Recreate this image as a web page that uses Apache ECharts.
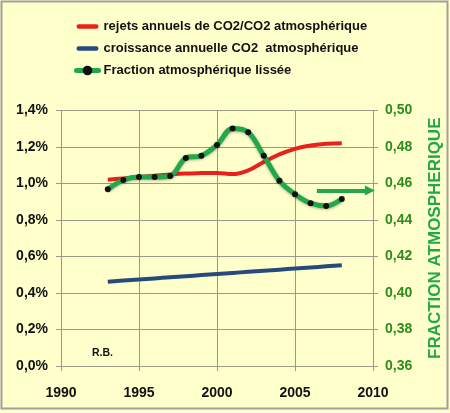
<!DOCTYPE html>
<html>
<head>
<meta charset="utf-8">
<script src="https://cdn.jsdelivr.net/npm/echarts@6/dist/echarts.min.js"></script>
<style>
html,body{margin:0;padding:0;background:#ffffcc;}
#c{width:450px;height:413px;}
</style>
</head>
<body>
<div id="c"></div>
<script>
const years = [1993,1994,1995,1996,1997,1998,1999,2000,2001,2002,2003,2004,2005,2006,2007,2008];
const rejets = [1.020,1.028,1.035,1.043,1.050,1.055,1.057,1.058,1.052,1.072,1.118,1.160,1.190,1.208,1.218,1.220];
const croissance = [0.462,0.468,0.474,0.480,0.486,0.492,0.498,0.504,0.510,0.516,0.522,0.528,0.534,0.540,0.546,0.552];
const fraction = [0.4568,0.4619,0.4636,0.4636,0.4641,0.4740,0.4752,0.4811,0.4902,0.4881,0.4752,0.4615,0.4541,0.4492,0.4477,0.4515];
const arrowFrom = [2006.4, 0.4562];
const arrowTo = [2009.8, 0.4562];
const seriesNames = ['rejets annuels de CO2/CO2 atmosphérique','croissance annuelle CO2  atmosphérique','Fraction atmosphérique lissée'];
const xTicks = {min:1990, max:2010, interval:5};
const leftTicks = {min:0, max:1.4, interval:0.2};
const rightTicks = {min:0.36, max:0.50, interval:0.02};
const rightName = 'FRACTION ATMOSPHERIQUE';
const note = 'R.B.';

const pair = (xs, ys) => xs.map((x,i)=>[x, ys[i]]);
const font = 'Liberation Sans, Arial, sans-serif';
const green = '#22a84a';
const red = '#e8221b';
const blue = '#264a7c';
const grid = '#9a9a8a';
const barIcon = 'path://M2.5,0 L21.5,0 A2.5,2.5 0 0 1 21.5,5 L2.5,5 A2.5,2.5 0 0 1 2.5,0 Z';

const chart = echarts.init(document.getElementById('c'));
chart.setOption({
  backgroundColor: '#ffffcc',
  animation: false,
  textStyle: {fontFamily: font},
  grid: {left: 61, right: 77, top: 110.5, bottom: 47, containLabel: false, outerBoundsMode: 'none'},
  legend: {
    orient: 'vertical', left: 74, top: 20, padding: 0, itemWidth: 22, itemHeight: 12, itemGap: 9,
    textStyle: {fontFamily: font, fontWeight: 'bold', fontSize: 13, color: '#111'},
    data: [
      {name: seriesNames[0], icon: barIcon, itemStyle: {color: red}},
      {name: seriesNames[1], icon: barIcon, itemStyle: {color: blue}},
      {name: seriesNames[2], lineStyle: {width: 5, color: green, cap: 'round'}}
    ]
  },
  xAxis: {
    type: 'value', min: xTicks.min, max: xTicks.max, interval: xTicks.interval,
    axisLine: {lineStyle: {color: grid}},
    axisTick: {show: true, length: 5, lineStyle: {color: grid}},
    splitLine: {show: true, lineStyle: {color: grid}},
    axisLabel: {margin: 20, fontFamily: font, fontWeight: 'bold', fontSize: 14, color: '#111', formatter: v => String(v)}
  },
  yAxis: [{
    type: 'value', min: leftTicks.min, max: leftTicks.max, interval: leftTicks.interval,
    axisLine: {show: true, lineStyle: {color: grid}},
    axisTick: {show: true, length: 5, lineStyle: {color: grid}},
    splitLine: {show: true, lineStyle: {color: grid}},
    axisLabel: {margin: 13, fontFamily: font, fontWeight: 'bold', fontSize: 14, color: '#111',
      formatter: v => v.toFixed(1).replace('.', ',') + '%'}
  }, {
    type: 'value', position: 'right', min: rightTicks.min, max: rightTicks.max, interval: rightTicks.interval,
    name: rightName, nameLocation: 'middle', nameRotate: 90, nameGap: 54,
    nameTextStyle: {fontFamily: font, fontWeight: 'bold', fontSize: 17, color: green},
    axisLine: {show: true, lineStyle: {color: grid}},
    axisTick: {show: true, length: 5, lineStyle: {color: grid}},
    splitLine: {show: false},
    axisLabel: {margin: 12, fontFamily: font, fontWeight: 'bold', fontSize: 14, color: '#2e8b1e',
      formatter: v => v.toFixed(2).replace('.', ',')}
  }],
  series: [{
    name: seriesNames[0], type: 'line', yAxisIndex: 0, data: pair(years, rejets),
    smooth: 0.4, symbol: 'none', lineStyle: {color: red, width: 4}, itemStyle: {color: red}
  }, {
    name: seriesNames[1], type: 'line', yAxisIndex: 0, data: pair(years, croissance),
    smooth: true, symbol: 'none', lineStyle: {color: blue, width: 4}, itemStyle: {color: blue}
  }, {
    name: seriesNames[2], type: 'line', yAxisIndex: 1, data: pair(years, fraction),
    smooth: 0.35, symbol: 'circle', symbolSize: 6, showSymbol: true,
    lineStyle: {color: green, width: 5, shadowColor: 'rgba(0,0,0,0.3)', shadowBlur: 3, shadowOffsetY: 1},
    itemStyle: {color: '#111', borderWidth: 0},
    markLine: {
      silent: true, symbol: ['none', 'triangle'], symbolSize: [10, 10], label: {show: false},
      lineStyle: {color: green, width: 4, type: 'solid'},
      itemStyle: {color: green},
      data: [[{coord: arrowFrom}, {coord: arrowTo}]]
    }
  }],
  graphic: [{
    type: 'text', left: 92, top: 348,
    style: {text: note, fontFamily: font, fontWeight: 'bold', fontSize: 10.5, fill: '#111'}
  }, {
    type: 'rect', shape: {x: 1.5, y: 1.5, width: 446, height: 407},
    style: {fill: 'none', stroke: '#a0a0a0', lineWidth: 2}, silent: true
  }]
});
</script>
</body>
</html>
